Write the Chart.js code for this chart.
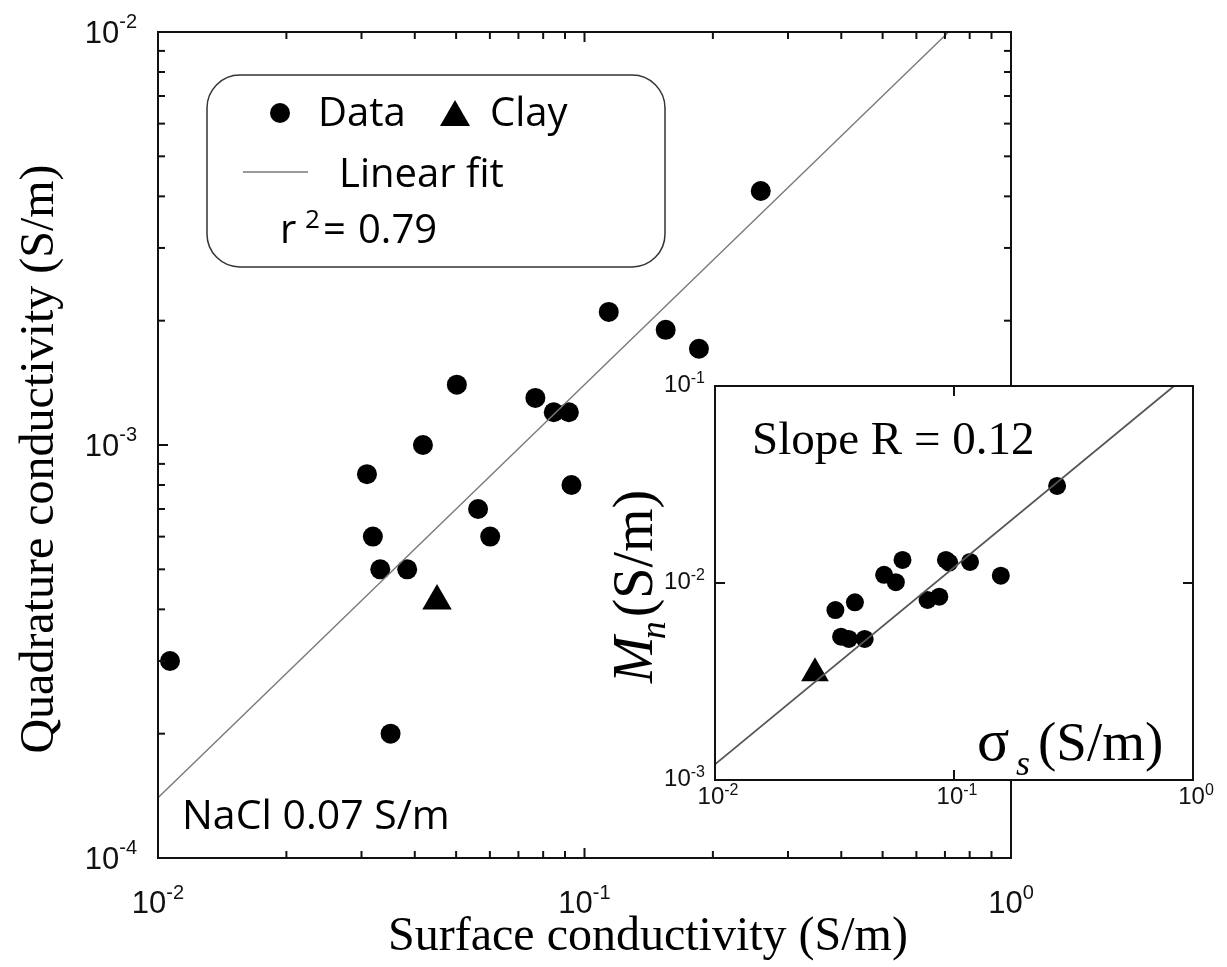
<!DOCTYPE html>
<html>
<head>
<meta charset="utf-8">
<script src="https://cdn.jsdelivr.net/npm/chart.js@4.4.1/dist/chart.umd.min.js"></script>
<style>
  html, body { margin: 0; padding: 0; background: #fff; }
  #wrap { position: relative; width: 1227px; height: 967px; overflow: hidden; }
  #main { position: absolute; left: 0; top: 0; }
  #inset { position: absolute; left: 560px; top: 360px; }
</style>
</head>
<body>
<div id="wrap">
  <canvas id="main" width="1227" height="967"></canvas>
  <canvas id="inset" width="667" height="480"></canvas>
</div>
<script>
// main plot: surface conductivity vs quadrature conductivity (S/m)
const dataX = [0.01067, 0.0309, 0.0319, 0.0332, 0.0351, 0.0384, 0.0418, 0.0502, 0.0563,
               0.0601, 0.0767, 0.0847, 0.0919, 0.0932, 0.114, 0.155, 0.1855, 0.259];
const dataY = [3.0e-4, 8.5e-4, 6.0e-4, 5.0e-4, 2.0e-4, 5.0e-4, 1.0e-3, 1.4e-3, 7.0e-4,
               6.0e-4, 1.3e-3, 1.2e-3, 1.2e-3, 8.0e-4, 2.1e-3, 1.9e-3, 1.71e-3, 4.12e-3];
const clayX = [0.0451];
const clayY = [4.19e-4];
const fitX = [0.01, 0.714];
const fitY = [1.4e-4, 0.01];

// inset: sigma_s vs M_n
const insetX = [0.0319, 0.0385, 0.0337, 0.0363, 0.0423, 0.0510, 0.0571, 0.0609, 0.0775,
                0.0868, 0.0925, 0.0955, 0.1167, 0.157, 0.270];
const insetY = [0.00729, 0.00798, 0.00534, 0.0052, 0.0052, 0.0110, 0.0101, 0.0131, 0.0082,
                0.00852, 0.0131, 0.0127, 0.0128, 0.0109, 0.0311];
const insetClayX = [0.0262];
const insetClayY = [0.00348];
const insetFitX = [0.01, 0.833];
const insetFitY = [0.0012, 0.1];

// ticks
const mainXTicks = [0.01, 0.1, 1];
const mainXExp = ['-2', '-1', '0'];
const mainYTicks = [1e-4, 1e-3, 1e-2];
const mainYExp = ['-4', '-3', '-2'];
const insetXTicks = [0.01, 0.1, 1];
const insetXExp = ['-2', '-1', '0'];
const insetYTicks = [1e-3, 1e-2, 1e-1];
const insetYExp = ['-3', '-2', '-1'];
const minorMult = [2, 3, 4, 5, 6, 7, 8, 9];

const pts = (xs, ys) => xs.map((x, i) => ({ x: x, y: ys[i] }));

const SANS = '"Liberation Sans", Arial, sans-serif';
const SERIF = '"Liberation Serif", "Times New Roman", serif';
const MYR = '"Open Sans", "Noto Sans", sans-serif';

// "10" with a superscript exponent; align = 'right' | 'center'
function pow10(ctx, exp, x, y, bigPx, smallPx, rise, align) {
  ctx.font = bigPx + 'px ' + SANS;
  const wb = ctx.measureText('10').width;
  ctx.font = smallPx + 'px ' + SANS;
  const we = ctx.measureText(exp).width;
  let left = align === 'right' ? x - wb - we : x - (wb + we) / 2;
  ctx.textAlign = 'left';
  ctx.textBaseline = 'alphabetic';
  ctx.font = bigPx + 'px ' + SANS;
  ctx.fillText('10', left, y);
  ctx.font = smallPx + 'px ' + SANS;
  ctx.fillText(exp, left + wb, y - rise);
}

function tickLine(ctx, x1, y1, x2, y2) {
  ctx.beginPath(); ctx.moveTo(x1, y1); ctx.lineTo(x2, y2); ctx.stroke();
}

const mainDeco = {
  id: 'mainDeco',
  afterDraw(chart) {
    const ctx = chart.ctx, a = chart.chartArea;
    const xs = chart.scales.x, ys = chart.scales.y;
    ctx.save();
    ctx.strokeStyle = '#111';
    ctx.fillStyle = '#111';
    ctx.lineWidth = 2;
    ctx.strokeRect(a.left, a.top, a.right - a.left, a.bottom - a.top);

    // x ticks (inward, bottom and top)
    mainXTicks.forEach((v, i) => {
      const px = xs.getPixelForValue(v);
      tickLine(ctx, px, a.bottom, px, a.bottom - 10);
      tickLine(ctx, px, a.top, px, a.top + 10);
      if (i < mainXTicks.length - 1) {
        minorMult.forEach(m => {
          const q = xs.getPixelForValue(v * m);
          tickLine(ctx, q, a.bottom, q, a.bottom - 7);
          tickLine(ctx, q, a.top, q, a.top + 7);
        });
      }
      pow10(ctx, mainXExp[i], px, 913, 31, 20, 14, 'center');
    });
    // y ticks (inward, left and right)
    mainYTicks.forEach((v, i) => {
      const py = ys.getPixelForValue(v);
      tickLine(ctx, a.left, py, a.left + 10, py);
      tickLine(ctx, a.right, py, a.right - 10, py);
      if (i < mainYTicks.length - 1) {
        minorMult.forEach(m => {
          const q = ys.getPixelForValue(v * m);
          tickLine(ctx, a.left, q, a.left + 7, q);
          tickLine(ctx, a.right, q, a.right - 7, q);
        });
      }
      pow10(ctx, mainYExp[i], 137, py + 11, 31, 20, 15, 'right');
    });

    // axis titles
    ctx.fillStyle = '#000';
    ctx.font = '48px ' + SERIF;
    ctx.textAlign = 'center';
    ctx.textBaseline = 'alphabetic';
    ctx.fillText('Surface conductivity (S/m)', 648, 950);
    ctx.save();
    ctx.translate(53, 459);
    ctx.rotate(-Math.PI / 2);
    ctx.fillText('Quadrature conductivity (S/m)', 0, 0);
    ctx.restore();

    // legend box
    ctx.lineWidth = 1.5;
    ctx.strokeStyle = '#333';
    ctx.beginPath();
    ctx.roundRect(207, 75, 458, 192, 33);
    ctx.stroke();
    ctx.fillStyle = '#000';
    ctx.beginPath(); ctx.arc(280, 113, 10, 0, Math.PI * 2); ctx.fill();
    ctx.beginPath(); ctx.moveTo(440, 126); ctx.lineTo(470, 126); ctx.lineTo(455, 100); ctx.closePath(); ctx.fill();
    ctx.strokeStyle = '#777';
    tickLine(ctx, 243, 172, 308, 172);
    ctx.textAlign = 'left';
    ctx.font = '40px ' + MYR;
    ctx.fillText('Data', 318, 126);
    ctx.fillText('Clay', 490, 126);
    ctx.fillText('Linear fit', 339, 187);
    ctx.fillText('r', 280, 243);
    ctx.fillText('=', 323, 243);
    ctx.fillText('0.79', 358, 243);
    ctx.font = '26px ' + MYR;
    ctx.fillText('2', 305, 228);

    ctx.font = '41px ' + MYR;
    ctx.fillText('NaCl 0.07 S/m', 182, 829);
    ctx.restore();
  }
};

const insetDeco = {
  id: 'insetDeco',
  beforeDraw(chart) {
    const ctx = chart.ctx, a = chart.chartArea;
    ctx.save();
    ctx.fillStyle = '#fff';
    ctx.fillRect(a.left - 1, a.top - 1, a.right - a.left + 2, a.bottom - a.top + 2);
    ctx.restore();
  },
  afterDraw(chart) {
    const ctx = chart.ctx, a = chart.chartArea;
    const xs = chart.scales.x, ys = chart.scales.y;
    ctx.save();
    ctx.strokeStyle = '#111';
    ctx.fillStyle = '#111';
    ctx.lineWidth = 2;
    ctx.strokeRect(a.left, a.top, a.right - a.left, a.bottom - a.top);
    insetXTicks.forEach((v, i) => {
      const px = xs.getPixelForValue(v);
      tickLine(ctx, px, a.bottom, px, a.bottom - 10);
      tickLine(ctx, px, a.top, px, a.top + 10);
      pow10(ctx, insetXExp[i], px + 3, 444, 24, 16, 9, 'center');
    });
    insetYTicks.forEach((v, i) => {
      const py = ys.getPixelForValue(v);
      tickLine(ctx, a.left, py, a.left + 10, py);
      tickLine(ctx, a.right, py, a.right - 10, py);
      pow10(ctx, insetYExp[i], 145, py + 6, 24, 16, 9, 'right');
    });

    ctx.fillStyle = '#000';
    ctx.textAlign = 'left';
    ctx.textBaseline = 'alphabetic';
    ctx.font = '47px ' + SERIF;
    ctx.fillText('Slope R = 0.12', 192, 94);

    // sigma_s (S/m)
    ctx.font = '60px ' + SERIF;
    ctx.fillText('\u03C3', 417, 400);
    ctx.font = 'italic 36px ' + SERIF;
    ctx.fillText('s', 456, 415);
    ctx.font = '55px ' + SERIF;
    ctx.fillText('(S/m)', 478, 400);

    // M_n (S/m), rotated
    ctx.save();
    ctx.translate(92, 323);
    ctx.rotate(-Math.PI / 2);
    ctx.font = 'italic 56px ' + SERIF;
    ctx.fillText('M', 0, 0);
    const wm = ctx.measureText('M').width;
    ctx.font = 'italic 36px ' + SERIF;
    ctx.fillText('n', wm - 3, 13);
    const wn = ctx.measureText('n').width;
    ctx.font = '56px ' + SERIF;
    ctx.fillText('(S/m)', wm + wn + 1, 0);
    ctx.restore();
    ctx.restore();
  }
};

function logAxis(min, max) {
  return { type: 'logarithmic', min: min, max: max, display: false };
}

new Chart(document.getElementById('main'), {
  type: 'scatter',
  data: {
    datasets: [
      { data: pts(fitX, fitY), showLine: true, borderColor: '#7a7a7a', borderWidth: 1.4,
        pointRadius: 0, fill: false },
      { data: pts(dataX, dataY), pointStyle: 'circle', pointRadius: 10, backgroundColor: '#000',
        borderWidth: 0, clip: false },
      { data: pts(clayX, clayY), pointStyle: 'triangle', pointRadius: 17, backgroundColor: '#000',
        borderWidth: 0, clip: false }
    ]
  },
  options: {
    responsive: false,
    animation: false,
    events: [],
    layout: { padding: { left: 158, top: 32, right: 216, bottom: 109 } },
    plugins: { legend: { display: false }, tooltip: { enabled: false } },
    scales: { x: logAxis(0.01, 1), y: logAxis(1e-4, 1e-2) }
  },
  plugins: [mainDeco]
});

new Chart(document.getElementById('inset'), {
  type: 'scatter',
  data: {
    datasets: [
      { data: pts(insetFitX, insetFitY), showLine: true, borderColor: '#555', borderWidth: 1.8,
        pointRadius: 0, fill: false },
      { data: pts(insetX, insetY), pointStyle: 'circle', pointRadius: 9, backgroundColor: '#000',
        borderWidth: 0, clip: false },
      { data: pts(insetClayX, insetClayY), pointStyle: 'triangle', pointRadius: 16, backgroundColor: '#000',
        borderWidth: 0, clip: false }
    ]
  },
  options: {
    responsive: false,
    animation: false,
    events: [],
    layout: { padding: { left: 155, top: 26, right: 34, bottom: 60 } },
    plugins: { legend: { display: false }, tooltip: { enabled: false } },
    scales: { x: logAxis(0.01, 1), y: logAxis(1e-3, 1e-1) }
  },
  plugins: [insetDeco]
});
</script>
</body>
</html>
